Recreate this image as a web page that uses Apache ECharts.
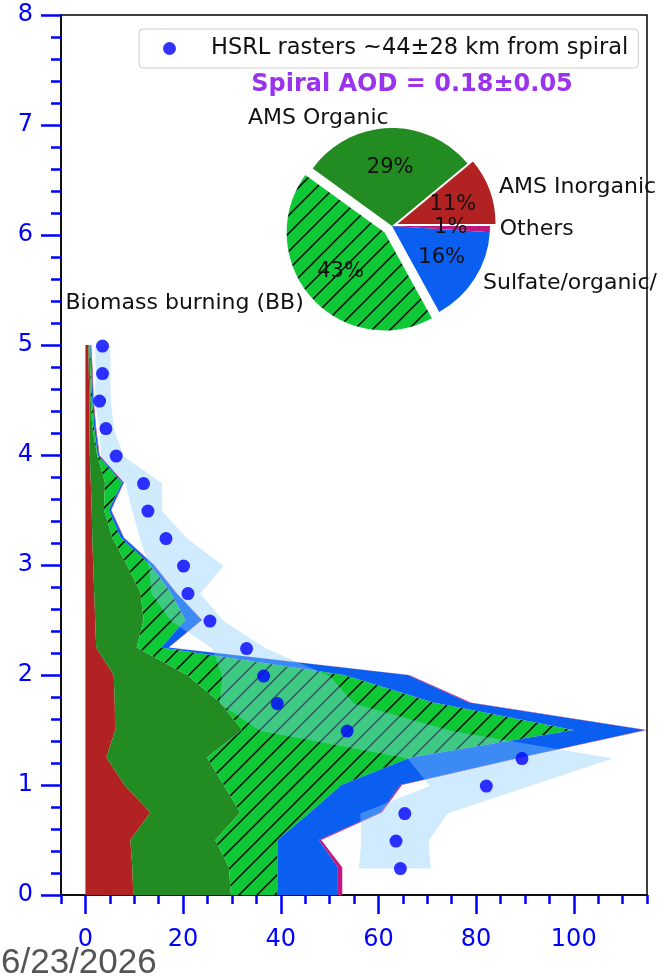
<!DOCTYPE html>
<html>
<head>
<meta charset="utf-8">
<script src="https://cdn.jsdelivr.net/npm/echarts@6/dist/echarts.min.js"></script>
<style>
  html, body { margin: 0; padding: 0; background: #ffffff; }
  #chart { width: 666px; height: 980px; }
</style>
</head>
<body>
<div id="chart"></div>
<script>
// Spiral profile levels (km) and extinction contribution of each aerosol type
const altitude = [0, 0.25, 0.5, 0.75, 1.0, 1.25, 1.5, 1.75, 2.0, 2.25, 2.5, 2.75, 3.0, 3.25, 3.5, 3.75, 4.0, 4.25, 4.5, 4.75, 5.0];
const amsInorganic = [9.8, 9.6, 9.2, 13.3, 8.0, 4.3, 6.1, 6.0, 5.8, 2.2, 2.0, 1.8, 1.6, 1.4, 1.3, 1.1, 0.9, 0.8, 0.8, 0.7, 0.6];
const amsOrganic = [20.0, 19.8, 17.4, 18.4, 20.3, 20.6, 26.0, 21.6, 15.0, 8.3, 9.9, 9.5, 6.9, 4.1, 2.5, 2.9, 1.5, 0.6, 0.3, 0.3, 0.2];
const biomassBurning = [9.5, 9.9, 12.7, 14.3, 24.1, 41.7, 67.9, 43.7, 32.2, 5.0, 8.6, 6.2, 4.8, 1.7, 1.0, 3.5, 0.1, 0.4, 0.3, 0.2, 0.2];
const sulfateOrganic = [12.4, 12.4, 8.5, 14.4, 12.1, 22.4, 14.7, 7.2, 13.0, 1.5, 3.3, 1.0, 0.7, 0.6, 0.4, 0.3, 0.3, 0.3, 0.2, 0.2, 0.1];
const others = [0.9, 0.9, 0.5, 0.3, 0.3, 0.3, 0.3, 0.4, 0.3, 0.1, 0.1, 0.1, 0.1, 0.1, 0.1, 0.1, 0.1, 0.1, 0.1, 0.1, 0.1];

// HSRL raster extinction near the spiral: mean and spread per level
const hsrlAltitude = [0.24, 0.49, 0.74, 0.99, 1.24, 1.49, 1.74, 1.99, 2.24, 2.49, 2.74, 2.99, 3.24, 3.49, 3.74, 3.99, 4.24, 4.49, 4.74, 4.99];
const hsrlMean = [64.5, 63.6, 65.4, 82.1, 89.4, 53.6, 39.3, 36.5, 33.0, 25.5, 21.0, 20.1, 16.5, 12.8, 11.9, 6.3, 4.2, 2.9, 3.5, 3.5];
const hsrlLow = [56.0, 56.5, 56.3, 70.5, 66.0, 35.8, 27.5, 28.0, 26.0, 17.5, 13.5, 13.0, 11.2, 9.6, 8.2, 3.2, 2.9, 1.9, 2.1, 2.0];
const hsrlHigh = [70.7, 70.3, 74.1, 91.0, 108.0, 75.0, 55.0, 50.0, 37.0, 28.3, 23.5, 28.3, 20.8, 15.7, 15.7, 7.8, 5.8, 5.2, 5.1, 5.1];

// Column AOD fractions by type
const pieNames = ['AMS Inorganic', 'AMS Organic', 'Biomass burning (BB)', 'Sulfate/organic/', 'Others'];
const pieShares = [11, 29, 43, 16, 1];

// Axis ticks
const xMajorTicks = [0, 20, 40, 60, 80, 100];

const hsrlLabel = 'HSRL rasters ~44\u00b128 km from spiral';
const aodTitle = 'Spiral AOD = 0.18\u00b10.05';
const dateText = '6/23/2026';

// ---- styling ----
const FONT = 'DejaVu Sans';
const TICK_BLUE = '#0000ff';
const colors = {
  inorganic: '#b22222',
  organic: '#228b22',
  bb: '#0fc836',
  sulfate: '#0a5ef0',
  others: '#c01880',
  band: 'rgba(135, 206, 250, 0.4)',
  dots: '#0000ff'
};
const pieLayout = { cx: 392, cy: 226, r: 98, explode: [0.06, 0, 0.1, 0, 0] };

// Diagonal "/" hatch over a solid background, used as a repeating pattern
function makeHatch(bg, size) {
  const c = document.createElement('canvas');
  c.width = size; c.height = size;
  const g = c.getContext('2d');
  g.fillStyle = bg;
  g.fillRect(0, 0, size, size);
  g.strokeStyle = '#000000';
  g.lineWidth = 1.5;
  g.beginPath();
  g.moveTo(-3, size + 3); g.lineTo(size + 3, -3);
  g.moveTo(-3, 3); g.lineTo(3, -3);
  g.moveTo(size - 3, size + 3); g.lineTo(size + 3, size - 3);
  g.stroke();
  return c;
}
const hatchFill = { image: makeHatch(colors.bb, 18), repeat: 'repeat' };

// Stack the components horizontally (extinction direction)
const components = [
  { name: 'AMS Inorganic', values: amsInorganic, fill: colors.inorganic },
  { name: 'AMS Organic', values: amsOrganic, fill: colors.organic },
  { name: 'Biomass burning (BB)', values: biomassBurning, fill: hatchFill },
  { name: 'Sulfate/organic', values: sulfateOrganic, fill: colors.sulfate },
  { name: 'Others', values: others, fill: colors.others }
];

// Filled region between a lower and upper x-profile along altitude
function profileArea(name, lower, upper, alts, fill) {
  return {
    type: 'custom',
    name: name,
    silent: true,
    clip: true,
    xAxisIndex: 0,
    yAxisIndex: 0,
    data: alts.map((a, i) => [lower[i], upper[i], a]),
    encode: { x: [0, 1], y: 2 },
    renderItem: function (params, api) {
      if (params.dataIndexInside !== 0) return null;
      const n = params.dataInsideLength;
      const pts = [];
      for (let i = 0; i < n; i++) pts.push(api.coord([api.value(1, i), api.value(2, i)]));
      for (let i = n - 1; i >= 0; i--) pts.push(api.coord([api.value(0, i), api.value(2, i)]));
      return { type: 'polygon', shape: { points: pts }, style: { fill: fill, stroke: null } };
    }
  };
}

const series = [];
let running = altitude.map(() => 0);
components.forEach(comp => {
  const lower = running;
  const upper = running.map((v, i) => v + comp.values[i]);
  series.push(profileArea(comp.name, lower, upper, altitude, comp.fill));
  running = upper;
});

series.push(profileArea('HSRL spread', hsrlLow, hsrlHigh, hsrlAltitude, colors.band));

series.push({
  type: 'scatter',
  name: hsrlLabel,
  xAxisIndex: 0,
  yAxisIndex: 0,
  data: hsrlMean.map((v, i) => [v, hsrlAltitude[i]]),
  symbol: 'circle',
  symbolSize: 13,
  itemStyle: { color: colors.dots },
  silent: true
});

// Inset pie of AOD fractions (counter-clockwise from 3 o'clock)
const pieTotal = pieShares.reduce((a, b) => a + b, 0);
const pieFills = [colors.inorganic, colors.organic, hatchFill, colors.sulfate, colors.others];
series.push({
  type: 'custom',
  coordinateSystem: 'none',
  silent: true,
  data: pieShares.map((v, i) => ({ value: v, name: pieNames[i] })),
  renderItem: function (params, api) {
    const i = params.dataIndex;
    const v = api.value(0);
    let before = 0;
    for (let k = 0; k < i; k++) before += pieShares[k];
    const a0 = before / pieTotal * 2 * Math.PI;
    const a1 = (before + v) / pieTotal * 2 * Math.PI;
    const mid = (a0 + a1) / 2;
    const ux = Math.cos(mid), uy = -Math.sin(mid);
    const R = pieLayout.r;
    const shift = pieLayout.explode[i] * R;
    const cx = pieLayout.cx + ux * shift;
    const cy = pieLayout.cy + uy * shift;
    const pct = Math.round(v / pieTotal * 100) + '%';
    return {
      type: 'group',
      children: [
        {
          type: 'sector',
          shape: { cx: cx, cy: cy, r0: 0, r: R, startAngle: -a1, endAngle: -a0, clockwise: true },
          style: { fill: pieFills[i] }
        },
        {
          type: 'text',
          x: cx + ux * R * 1.1,
          y: cy + uy * R * 1.1,
          style: {
            text: pieNames[i], fill: '#111111', fontSize: 22, fontFamily: FONT,
            align: ux > 0 ? 'left' : 'right', verticalAlign: 'middle'
          }
        },
        {
          type: 'text',
          x: cx + ux * R * 0.6,
          y: cy + uy * R * 0.6,
          z2: 10,
          style: {
            text: pct, fill: '#111111', fontSize: 21, fontFamily: FONT,
            align: 'center', verticalAlign: 'middle'
          }
        }
      ]
    };
  }
});

const option = {
  animation: false,
  backgroundColor: '#ffffff',
  grid: {
    left: 61, right: 19, top: 15, bottom: 85,
    show: true, borderColor: '#000000', borderWidth: 1.5, backgroundColor: 'transparent'
  },
  title: {
    text: aodTitle,
    left: 412, top: 73, textAlign: 'center', padding: 0,
    textStyle: { color: '#9933ee', fontSize: 24, fontWeight: 'bold', fontFamily: FONT }
  },
  legend: {
    data: [hsrlLabel],
    left: 139, top: 29,
    padding: [8, 10, 8, 24],
    itemWidth: 13, itemHeight: 13,
    icon: 'circle',
    backgroundColor: '#ffffff',
    borderColor: '#cccccc', borderWidth: 1, borderRadius: 4,
    selectedMode: false,
    textStyle: { fontSize: 22.5, fontFamily: FONT, color: '#111111', padding: [0, 0, 0, 30] }
  },
  xAxis: [
    {
      type: 'value', min: -5, max: 115, interval: 5, position: 'bottom',
      axisLine: { show: true, onZero: false, lineStyle: { color: '#000000', width: 1.5 } },
      axisTick: { show: true, length: 9, lineStyle: { color: TICK_BLUE, width: 2.5 } },
      axisLabel: { show: false },
      splitLine: { show: false }
    },
    {
      type: 'value', min: -5, max: 115, position: 'bottom',
      axisLine: { show: false, onZero: false },
      axisTick: { show: true, length: 19, customValues: xMajorTicks, lineStyle: { color: TICK_BLUE, width: 2.5 } },
      axisLabel: { show: true, customValues: xMajorTicks, margin: 33, color: TICK_BLUE, fontSize: 24, fontFamily: FONT },
      splitLine: { show: false }
    }
  ],
  yAxis: {
    type: 'value', min: 0, max: 8, interval: 1,
    axisLine: { show: true, onZero: false, lineStyle: { color: '#000000', width: 1.5 } },
    axisTick: { show: true, length: 20, lineStyle: { color: TICK_BLUE, width: 2.5 } },
    minorTick: { show: true, splitNumber: 5, length: 10, lineStyle: { color: TICK_BLUE, width: 2.5 } },
    axisLabel: { margin: 28, color: TICK_BLUE, fontSize: 24, fontFamily: FONT },
    splitLine: { show: false }
  },
  graphic: [
    {
      type: 'text', left: 1, top: 946,
      style: { text: dateText, fontSize: 35, fontFamily: 'Liberation Sans', fill: '#555555' }
    }
  ],
  series: series
};

const chart = echarts.init(document.getElementById('chart'), null, { renderer: 'canvas' });
chart.setOption(option);
</script>
</body>
</html>
